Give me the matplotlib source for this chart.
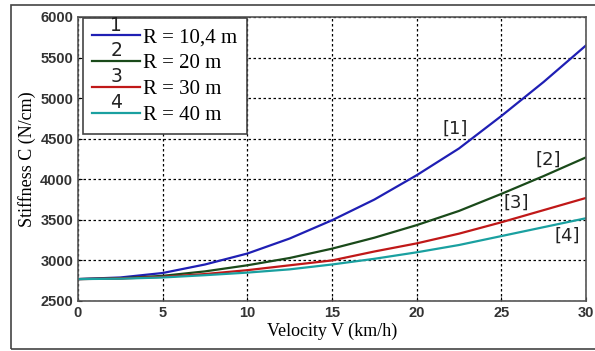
import matplotlib.pyplot as plt
from matplotlib.patches import Rectangle

# Dados
velocidade = [0, 2.5, 5, 7.5, 10, 12.5, 15, 17.5, 20, 22.5, 25, 27.5, 30]
c_r10 = [2770, 2790, 2845, 2950, 3085, 3270, 3495, 3750, 4050, 4380, 4780, 5200, 5650]
c_r20 = [2770, 2780, 2810, 2865, 2940, 3030, 3145, 3280, 3435, 3610, 3820, 4040, 4270]
c_r30 = [2770, 2777, 2797, 2832, 2880, 2940, 3000, 3110, 3210, 3330, 3470, 3620, 3770]
c_r40 = [2770, 2775, 2790, 2818, 2850, 2890, 2950, 3020, 3100, 3190, 3300, 3410, 3520]

legendas = ['R = 10,4 m', 'R = 20 m', 'R = 30 m', 'R = 40 m']
numeros = ['1', '2', '3', '4']
cores = ['#1f1fb4', '#1a4a1a', '#c01818', '#1aa0a0']

rotulos = ['[1]', '[2]', '[3]', '[4]']
pos_rotulos = [(22.3, 4620), (27.8, 4245), (25.9, 3710), (28.9, 3300)]

fig = plt.figure(figsize=(5.95, 3.51), dpi=100)
ax = fig.add_axes([78 / 595, 50 / 351, 508 / 595, 284 / 351])

# moldura externa cinza
fig.patches.append(Rectangle((11 / 595, 2 / 351), 590 / 595, 344 / 351,
                             transform=fig.transFigure, fill=False,
                             edgecolor='#444444', linewidth=1.2))

series = [c_r10, c_r20, c_r30, c_r40]
linhas = []
for valores, cor in zip(series, cores):
    l, = ax.plot(velocidade, valores, color=cor, linewidth=1.6)
    linhas.append(l)

for texto, (x, y) in zip(rotulos, pos_rotulos):
    ax.text(x, y, texto, fontsize=13, ha='center', va='center',
            fontfamily='DejaVu Sans', color='#222222')

ax.set_xlim(0, 30)
ax.set_ylim(2500, 6000)
ax.set_xticks(range(0, 31, 5))
ax.set_yticks(range(2500, 6001, 500))
ax.grid(True, color='black', linestyle=(0, (2, 2)), linewidth=0.9)
ax.tick_params(direction='in', length=3, labelsize=10.5)
for lab in ax.get_xticklabels() + ax.get_yticklabels():
    lab.set_fontfamily('Liberation Sans')
    lab.set_fontweight('bold')
    lab.set_color('#333333')
for s in ax.spines.values():
    s.set_color('#555555')
    s.set_linewidth(1.2)

ax.set_xlabel('Velocity V (km/h)', fontsize=13, fontfamily='Liberation Serif', labelpad=2)
ax.set_ylabel('Stiffness C (N/cm)', fontsize=13, fontfamily='Liberation Serif', labelpad=3)

leg = ax.legend(linhas, legendas, loc='upper left', bbox_to_anchor=(0.01, 0.995),
                prop={'family': 'Liberation Serif', 'size': 15},
                handlelength=2.3, handletextpad=0.15, labelspacing=0.3,
                borderpad=0.45, fancybox=False, framealpha=1, borderaxespad=0)
leg.get_frame().set_edgecolor('#444444')
leg.get_frame().set_linewidth(1.2)

# números acima das linhas da legenda
fig.canvas.draw()
for num, h in zip(numeros, leg.legend_handles):
    bb = h.get_window_extent(fig.canvas.get_renderer())
    xm = (bb.x0 + bb.x1) / 2
    ym = (bb.y0 + bb.y1) / 2
    fig.text(xm / fig.dpi / 5.95, (ym + 0.5) / fig.dpi / 3.51, num,
             ha='center', va='bottom', fontsize=13.5, fontfamily='DejaVu Sans',
             color='#222222')

fig.savefig('out.png', dpi=100)
